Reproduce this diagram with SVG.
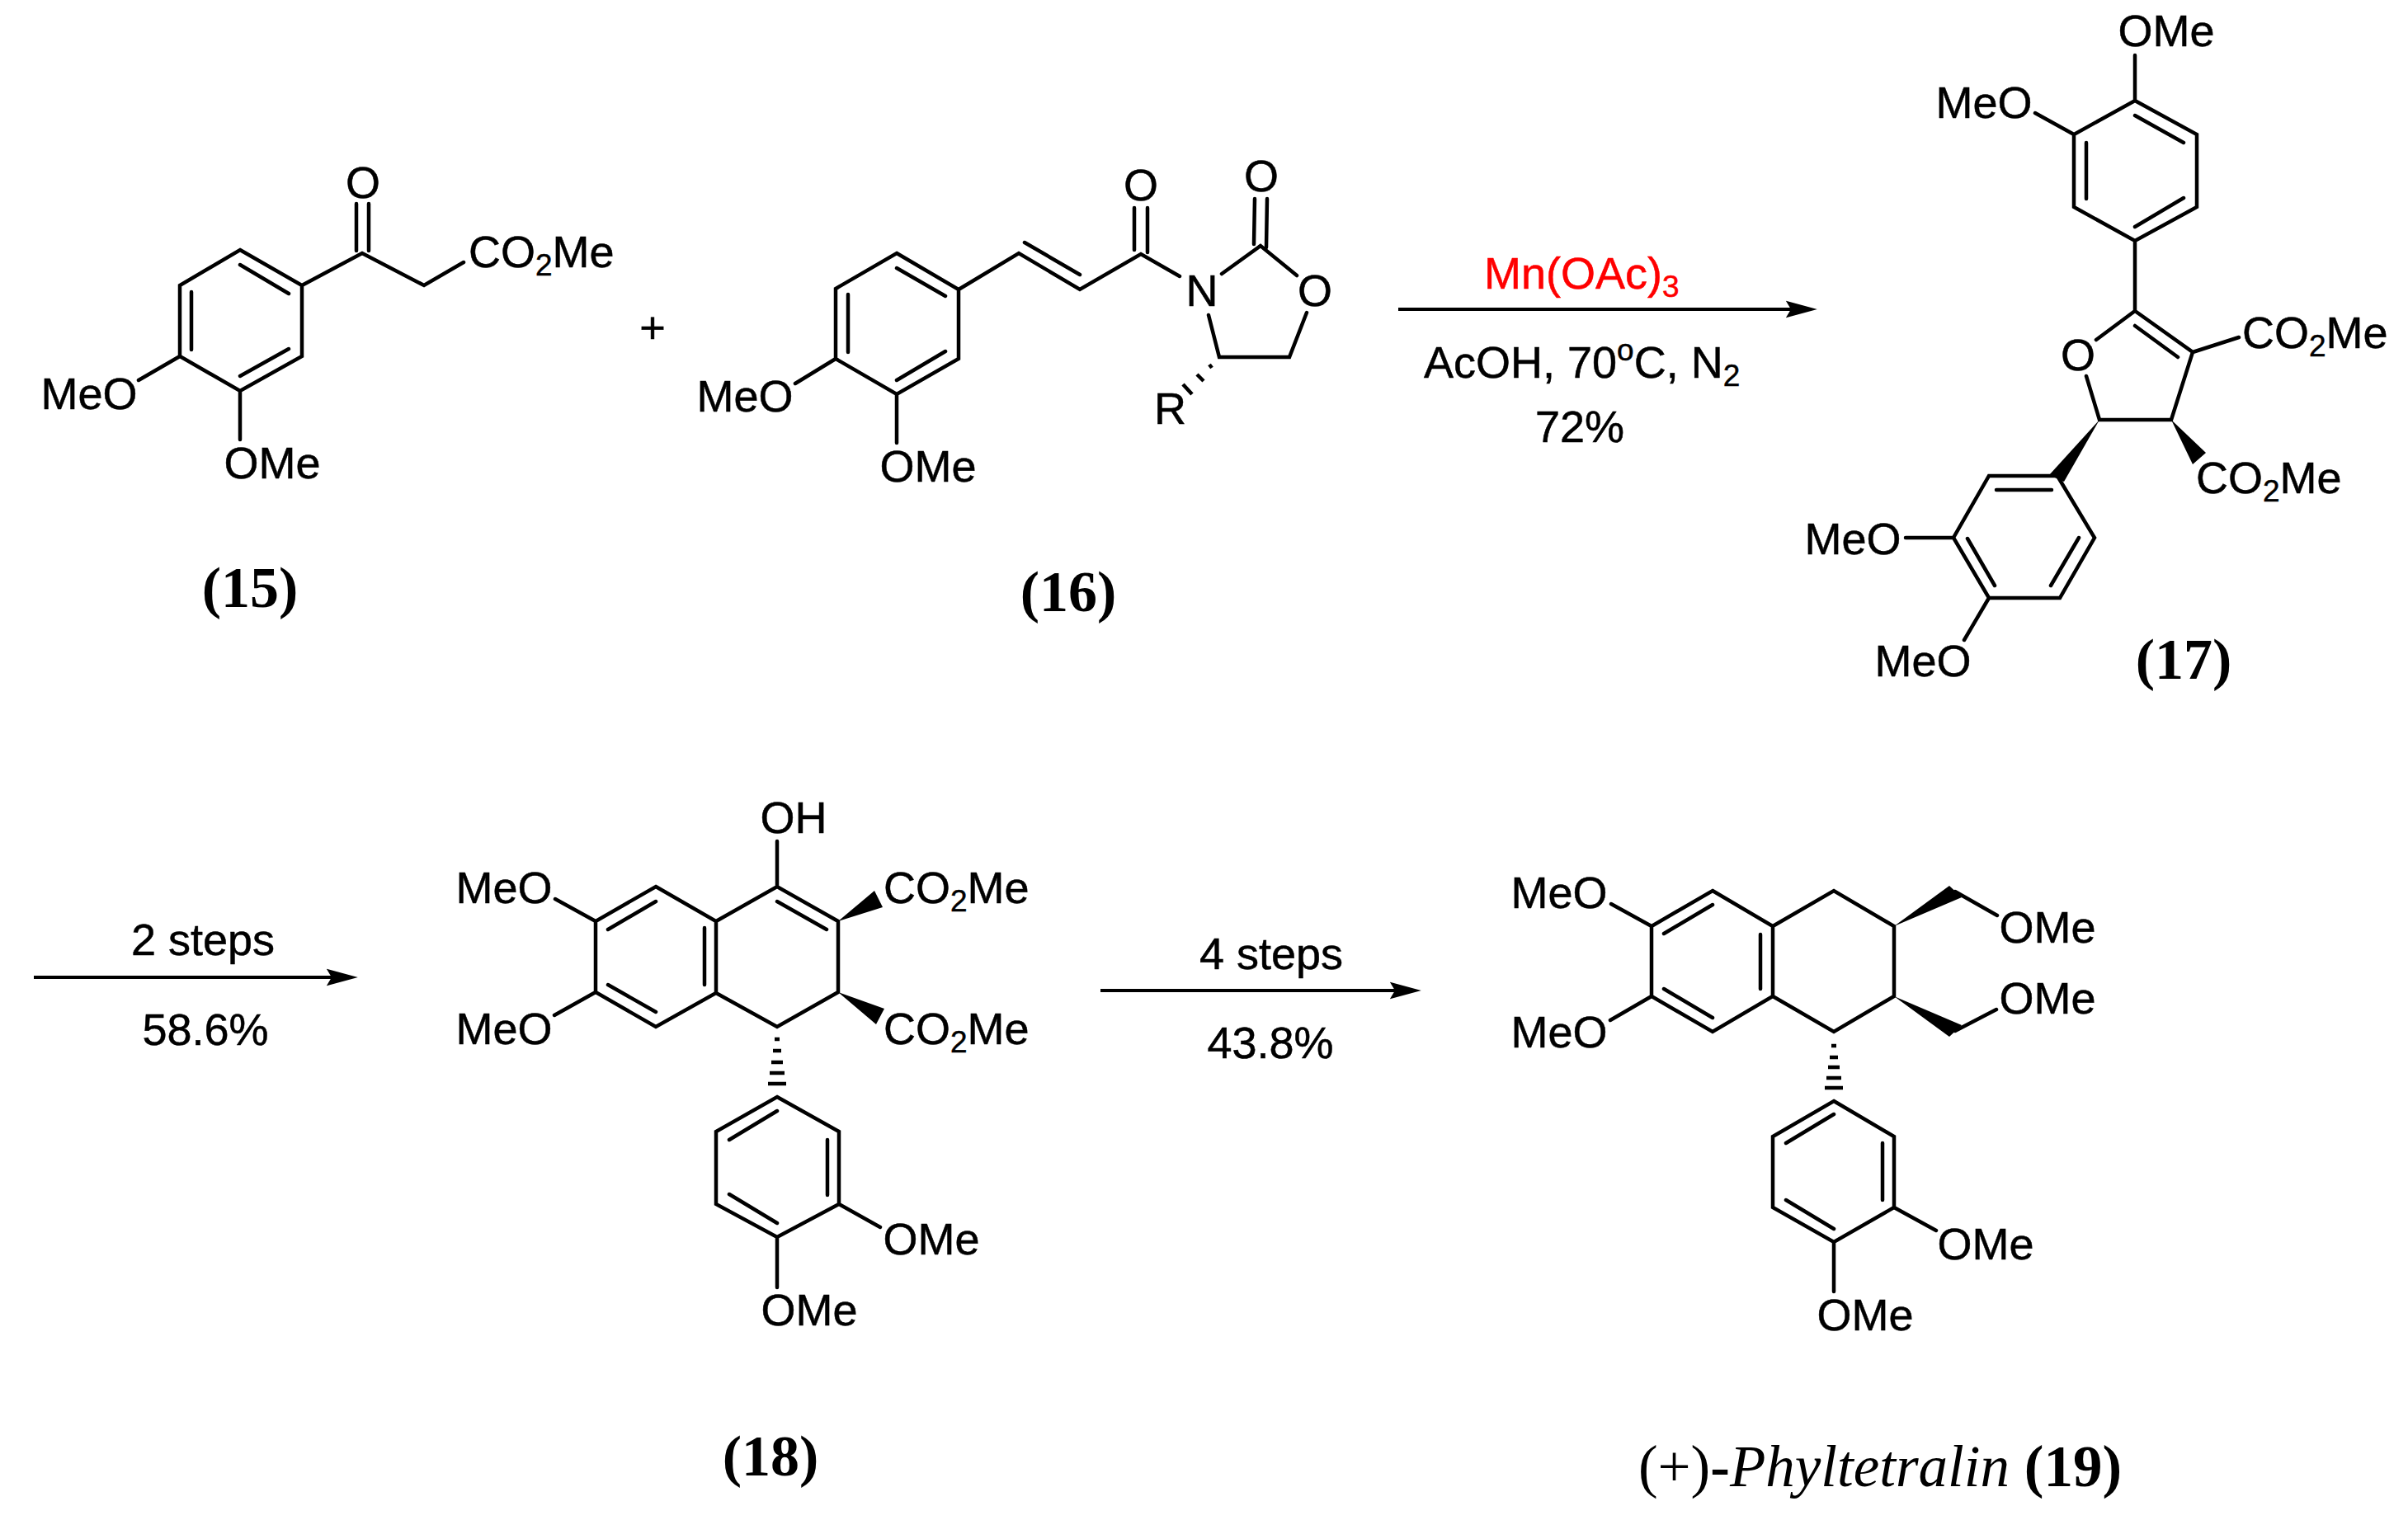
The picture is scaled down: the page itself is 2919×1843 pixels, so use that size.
<svg xmlns="http://www.w3.org/2000/svg" width="2919" height="1843" viewBox="0 0 2919 1843">
<style>
.b{fill:none;stroke:#000;stroke-width:4.5;stroke-linecap:round;stroke-linejoin:miter}
.h{fill:none;stroke:#000;stroke-width:4.5}
.w{fill:#000;stroke:none}
.t{font-family:"Liberation Sans",Arial,sans-serif;font-size:54px;fill:#000;stroke:#000;stroke-width:.5}
.m{text-anchor:middle}
.s{font-size:37px}
.n{font-family:"Liberation Serif","Times New Roman",serif;font-size:70px;fill:#000;text-anchor:middle}
.n .bd{font-weight:bold}
.n .it{font-style:italic}
.a{stroke:#000;stroke-width:4;fill:none;marker-end:url(#head)}
</style>
<defs>
<marker id="head" markerUnits="userSpaceOnUse" markerWidth="38" markerHeight="22" viewBox="0 0 37 20" refX="6" refY="10" orient="auto"><polygon points="0,0 37,10 0,20 6,10" fill="#000"/></marker>
</defs>
<rect width="2919" height="1843" fill="#fff"/>

<g id="compound-15">
<path class="b" d="M291 303L366 346V432L291 474L218 432V346ZM291 321L350 356M232 354V424M350 423L291 456M366 346L439 307L514 346L562 318M432 247V304M447 247V304M218 432L168 461M291 474V533"/>
<text class="t m" x="440" y="240">O</text>
<text class="t" x="568" y="324">CO<tspan class="s" dy="10">2</tspan><tspan dy="-10">Me</tspan></text>
<text class="t m" x="108" y="496">MeO</text>
<text class="t m" x="330" y="580">OMe</text>
<text class="n" x="303" y="736"><tspan class="bd">(15)</tspan></text>
</g>

<g id="plus"><text class="t m" x="791" y="416">+</text></g>

<g id="compound-16">
<path class="b" d="M1087 307L1162 351V435L1087 478L1013 435V350ZM1087 325L1146 359M1028 357V427M1146 426L1087 461M1162 351L1235 307L1309 351L1383 308L1430 335M1242 294L1309 333M1375 252V303M1391 252V306M1481 332L1528 298L1572 334M1521 241L1520 296M1536 241L1535 300M1584 379L1563 433H1478L1465 382M1013 435L964 465M1087 478V537"/>
<path class="h" d="M1466 442L1469 446M1451 454L1459 462M1434 466L1445 478"/>
<text class="t m" x="1383" y="243">O</text>
<text class="t m" x="1529" y="232">O</text>
<text class="t m" x="1457" y="371">N</text>
<text class="t m" x="1594" y="371">O</text>
<text class="t" x="1399" y="514">R</text>
<text class="t m" x="903" y="499">MeO</text>
<text class="t m" x="1125" y="584">OMe</text>
<text class="n" x="1295" y="741"><tspan class="bd">(16)</tspan></text>
</g>

<g id="compound-17">
<path class="b" d="M2588 122L2663 163V251L2588 292L2514 251V163ZM2588 140L2647 173M2529 173V241M2647 240L2588 275M2588 67V122M2467 137L2514 163M2588 292V377M2541 412L2588 377L2658 427L2632 509H2545L2529 456M2588 395L2640 433M2658 427L2714 409M2411 577H2494L2539 652L2497 725H2411L2368 652ZM2420 594H2487M2520 652L2486 710M2385 653L2418 710M2310 652H2368M2411 725L2381 776"/>
<polygon class="w" points="2632,509 2674,549 2658,563"/>
<polygon class="w" points="2545,509 2484,576 2502,584"/>
<text class="t m" x="2626" y="56">OMe</text>
<text class="t m" x="2405" y="143">MeO</text>
<text class="t m" x="2519" y="449">O</text>
<text class="t" x="2718" y="422">CO<tspan class="s" dy="10">2</tspan><tspan dy="-10">Me</tspan></text>
<text class="t" x="2662" y="598">CO<tspan class="s" dy="10">2</tspan><tspan dy="-10">Me</tspan></text>
<text class="t m" x="2246" y="672">MeO</text>
<text class="t m" x="2331" y="820">MeO</text>
<text class="n" x="2647" y="823"><tspan class="bd">(17)</tspan></text>
</g>

<g id="compound-18">
<path class="b" d="M795 1075L868 1117V1204L795 1245L722 1203V1117ZM737 1127L795 1093M737 1194L795 1227M854 1125V1194M868 1117L942 1075L1016 1117V1203L942 1245L868 1204M942 1093L1002 1127M942 1020V1075M673 1090L722 1117M672 1231L722 1203M942 1330L1017 1372V1460L942 1500L868 1460V1372ZM942 1347L884 1382M1003 1382V1449M884 1448L942 1483M1017 1460L1067 1488M942 1500V1561"/>
<polygon class="w" points="1016,1117 1060,1080 1070,1100"/>
<polygon class="w" points="1016,1203 1072,1223 1062,1242"/>
<path class="h" d="M939 1260H945M937 1274H947M935 1288H949M933 1301H951M931 1314H953"/>
<text class="t m" x="962" y="1010">OH</text>
<text class="t" x="1071" y="1095">CO<tspan class="s" dy="10">2</tspan><tspan dy="-10">Me</tspan></text>
<text class="t" x="1071" y="1266">CO<tspan class="s" dy="10">2</tspan><tspan dy="-10">Me</tspan></text>
<text class="t m" x="611" y="1095">MeO</text>
<text class="t m" x="611" y="1266">MeO</text>
<text class="t m" x="1129" y="1521">OMe</text>
<text class="t m" x="981" y="1607">OMe</text>
<text class="n" x="934" y="1789"><tspan class="bd">(18)</tspan></text>
</g>

<g id="compound-19">
<path class="b" d="M2076 1080L2149 1123V1208L2076 1251L2002 1208V1123ZM2017 1132L2076 1097M2017 1199L2076 1234M2134 1133V1199M2149 1123L2223 1080L2296 1123V1208L2223 1251L2149 1208M2370 1081L2421 1110M2370 1250L2420 1224M1953 1096L2002 1123M1952 1237L2002 1208M2223 1335L2296 1378V1464L2223 1506L2149 1464V1378ZM2223 1351L2165 1386M2282 1386V1455M2165 1455L2223 1490M2296 1464L2347 1492M2223 1506V1566"/>
<polygon class="w" points="2296,1123 2363,1074 2378,1088"/>
<polygon class="w" points="2296,1208 2378,1243 2363,1257"/>
<path class="h" d="M2220 1268H2226M2218 1282H2228M2216 1294H2230M2214 1307H2232M2212 1319H2234"/>
<text class="t m" x="2482" y="1143">OMe</text>
<text class="t m" x="2482" y="1229">OMe</text>
<text class="t m" x="1890" y="1101">MeO</text>
<text class="t m" x="1890" y="1270">MeO</text>
<text class="t m" x="2407" y="1527">OMe</text>
<text class="t m" x="2261" y="1613">OMe</text>
<text class="n" x="2279" y="1802" style="font-size:71px">(+)<tspan class="bd">-</tspan><tspan class="it">Phyltetralin</tspan> <tspan class="bd">(19)</tspan></text>
</g>

<g id="connectors">
<line class="a" x1="1695" y1="375" x2="2171" y2="375"/>
<line class="a" x1="41" y1="1185" x2="402" y2="1185"/>
<line class="a" x1="1334" y1="1201" x2="1691" y2="1201"/>
</g>

<g id="conditions">
<text class="t" x="1799" y="350" style="fill:#f00;stroke:#f00">Mn(OAc)<tspan class="s" dy="10">3</tspan></text>
<text class="t" x="1726" y="458">AcOH, 70<tspan class="s" dy="-21">o</tspan><tspan dy="21">C, N</tspan><tspan class="s" dy="10">2</tspan></text>
<text class="t m" x="1915" y="536">72%</text>
<text class="t m" x="246" y="1158">2 steps</text>
<text class="t m" x="249" y="1267">58.6%</text>
<text class="t m" x="1541" y="1175">4 steps</text>
<text class="t m" x="1540" y="1283">43.8%</text>
</g>
</svg>
